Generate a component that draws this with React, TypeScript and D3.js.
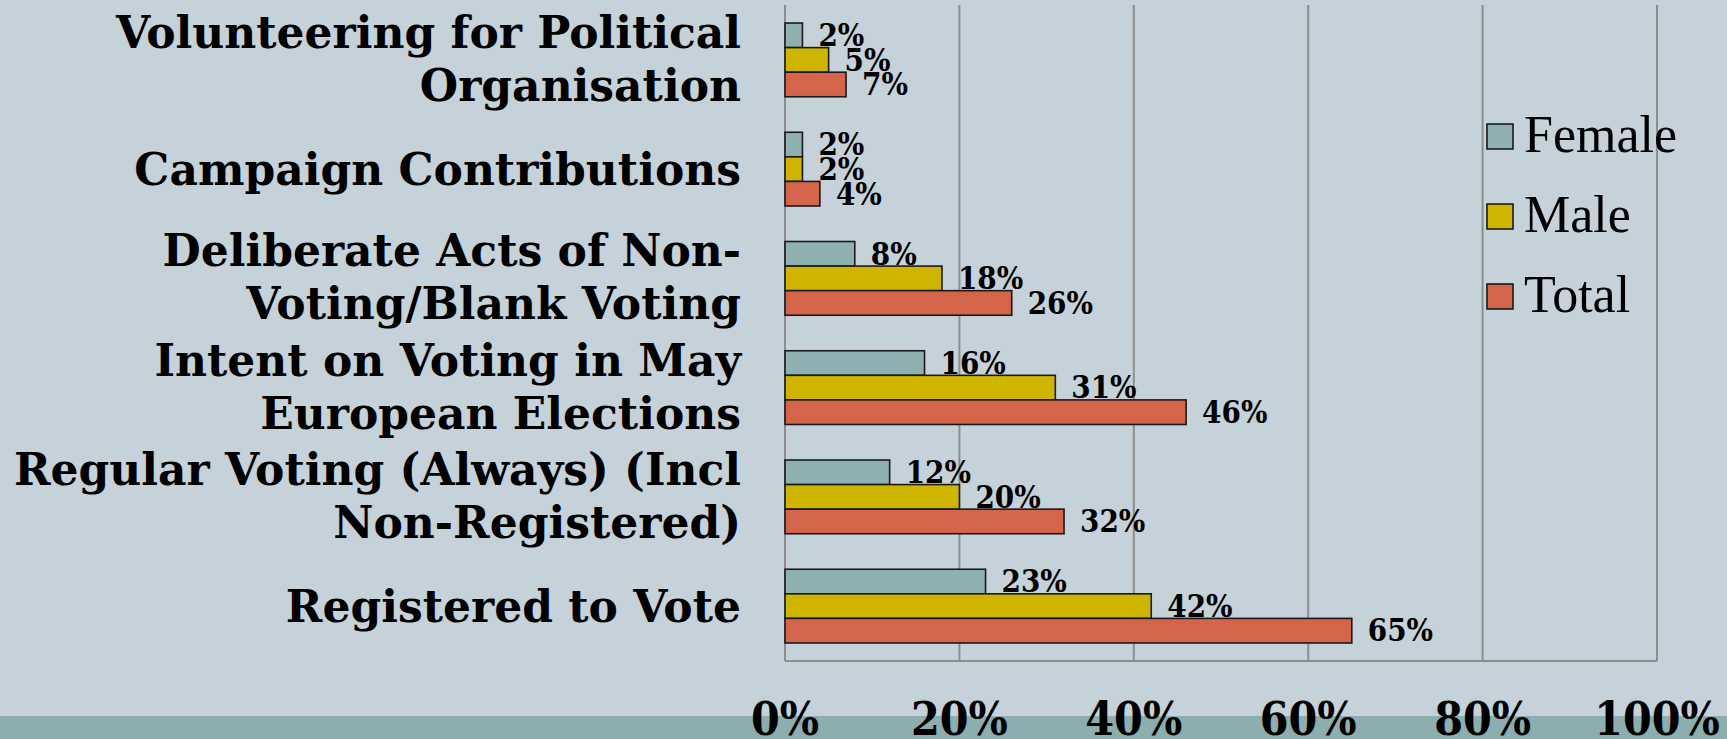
import * as d3 from 'd3';
import { useLayoutEffect, useRef } from 'react';

// categories top to bottom, each split into its display lines
const categoryLines: string[][] = [
  ['Volunteering for Political', 'Organisation'],
  ['Campaign Contributions'],
  ['Deliberate Acts of Non-', 'Voting/Blank Voting'],
  ['Intent on Voting in May', 'European Elections'],
  ['Regular Voting (Always) (Incl', 'Non-Registered)'],
  ['Registered to Vote'],
];
const categories = categoryLines.map((l) => l.join(' '));

const series = ['Female', 'Male', 'Total'];
const female = [2, 2, 8, 16, 12, 23];
const male = [5, 2, 18, 31, 20, 42];
const total = [7, 4, 26, 46, 32, 65];
const tickValues = [0, 20, 40, 60, 80, 100];

const colors: Record<string, string> = {
  Female: '#8fb0b1',
  Male: '#cfb500',
  Total: '#d4644a',
};

const W = 1727;
const H = 739;

const App = () => {
  const ref = useRef<SVGSVGElement>(null);

  useLayoutEffect(() => {
    if (!ref.current) return;
    const svg = d3.select(ref.current);
    svg.selectAll('*').remove();

    const valuesBySeries: Record<string, number[]> = {
      Female: female,
      Male: male,
      Total: total,
    };

    const x = d3.scaleLinear().domain([0, 100]).range([785, 1657]);
    const y = d3
      .scaleBand()
      .domain(categories)
      .range([5, 661])
      .paddingInner(0.325)
      .paddingOuter(0.165);
    const ySub = d3.scaleBand().domain(series).range([0, y.bandwidth()]);

    // background + bottom band
    svg.append('rect').attr('width', W).attr('height', H).attr('fill', '#c6d2d9');
    svg
      .append('rect')
      .attr('x', 0)
      .attr('y', 716)
      .attr('width', W)
      .attr('height', H - 716)
      .attr('fill', '#8caeae');

    // grid
    const [y0, y1] = y.range();
    svg
      .append('g')
      .selectAll('line')
      .data(tickValues)
      .join('line')
      .attr('x1', (d) => x(d))
      .attr('x2', (d) => x(d))
      .attr('y1', y0)
      .attr('y2', y1)
      .attr('stroke', '#8e8e8e')
      .attr('stroke-width', 2);
    svg
      .append('line')
      .attr('x1', x(0))
      .attr('x2', x(100))
      .attr('y1', y1)
      .attr('y2', y1)
      .attr('stroke', '#8e8e8e')
      .attr('stroke-width', 2);

    // bars and labels, series by series (next bars overlap previous labels)
    series.forEach((s) => {
      const vals = valuesBySeries[s];
      const g = svg.append('g');
      g.selectAll('rect')
        .data(categories)
        .join('rect')
        .attr('x', x(0))
        .attr('y', (c) => (y(c) ?? 0) + (ySub(s) ?? 0))
        .attr('width', (c, i) => x(vals[i]) - x(0))
        .attr('height', ySub.bandwidth())
        .attr('fill', colors[s])
        .attr('stroke', '#1a1a1a')
        .attr('stroke-width', 1.6);
      g.selectAll('text')
        .data(categories)
        .join('text')
        .attr('x', (c, i) => x(vals[i]) + 16)
        .attr('y', (c) => (y(c) ?? 0) + (ySub(s) ?? 0) + ySub.bandwidth() - 1.5)
        .text((c, i) => `${vals[i]}%`)
        .attr('font-family', '"DejaVu Serif Condensed", "DejaVu Serif", serif')
        .attr('font-stretch', 'condensed')
        .attr('font-weight', 'bold')
        .attr('font-size', 31)
        .attr('fill', '#000');
    });

    // category labels
    const catG = svg.append('g');
    categoryLines.forEach((lines, i) => {
      const c = (y(categories[i]) ?? 0) + y.bandwidth() / 2;
      const offsets = lines.length === 1 ? [16] : [-12, 41];
      lines.forEach((line, j) => {
        catG
          .append('text')
          .attr('x', 741)
          .attr('y', c + offsets[j])
          .attr('text-anchor', 'end')
          .attr('font-family', '"DejaVu Serif", serif')
          .attr('font-weight', 'bold')
          .attr('font-size', 44)
          .attr('fill', '#000')
          .text(line);
      });
    });

    // legend
    const legend = svg.append('g');
    series.forEach((s, i) => {
      legend
        .append('rect')
        .attr('x', 1487)
        .attr('y', 124 + i * 80)
        .attr('width', 26)
        .attr('height', 25)
        .attr('fill', colors[s])
        .attr('stroke', '#1a1a1a')
        .attr('stroke-width', 1.6);
      legend
        .append('text')
        .attr('x', 1524)
        .attr('y', 152 + i * 80)
        .attr('font-family', '"Liberation Serif", serif')
        .attr('font-size', 52)
        .attr('fill', '#000')
        .text(s);
    });

    // x tick labels
    svg
      .append('g')
      .selectAll('text')
      .data(tickValues)
      .join('text')
      .attr('x', (d) => x(d))
      .attr('y', 735)
      .attr('text-anchor', 'middle')
      .attr('font-family', '"DejaVu Serif Condensed", "DejaVu Serif", serif')
      .attr('font-stretch', 'condensed')
      .attr('font-weight', 'bold')
      .attr('font-size', 46)
      .attr('fill', '#000')
      .text((d) => `${d}%`);
  }, []);

  return (
    <svg
      ref={ref}
      width={W}
      height={H}
      style={{ position: 'absolute', left: 0, top: 0, display: 'block' }}
    />
  );
};

export default App;
